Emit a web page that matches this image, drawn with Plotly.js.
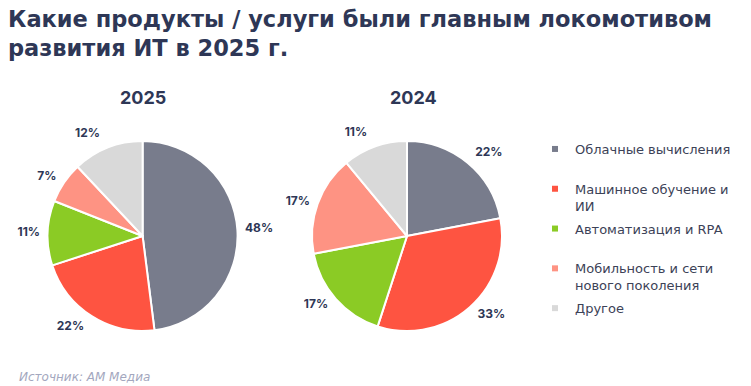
<!DOCTYPE html>
<html>
<head>
<meta charset="utf-8">
<script src="https://cdn.plot.ly/plotly-3.0.1.min.js"></script>
<style>html,body{margin:0;padding:0;background:#fff;}#chart{width:751px;height:386px;}</style>
</head>
<body>
<div id="chart"></div>
<script>
const categories = ["Облачные вычисления", "Машинное обучение и ИИ", "Автоматизация и RPA", "Мобильность и сети нового поколения", "Другое"];
const legendLabels = ["Облачные вычисления<br> ", "Машинное обучение и<br>ИИ", "Автоматизация и RPA<br> ", "Мобильность и сети<br>нового поколения", "Другое"];
const values2025 = [48, 22, 11, 7, 12];
const values2024 = [22, 33, 17, 17, 11];
const colors = ["#787c8c", "#fe5441", "#8bcb25", "#fe9383", "#d9d9d9"];
const years = ["2025", "2024"];

const NUMFONT = "Inter, 'Open Sans', sans-serif";
const TXTFONT = "'DejaVu Sans', 'Open Sans', sans-serif";
const DARK = "#2e3756";

const pad = "<span style='font-size:6px'>\u00a0</span>";
function pie(vals, dom) {
  return {
    type: "pie", values: vals, labels: categories, sort: false, direction: "clockwise", rotation: 0,
    marker: {colors: colors, line: {color: "#ffffff", width: 2}},
    texttemplate: pad + "<br><span style='font-size:12px'>%{value}%</span><br>" + pad,
    textposition: "outside",
    textfont: {family: NUMFONT, size: 9, color: DARK, weight: 700},
    hoverinfo: "none", showlegend: false, domain: dom
  };
}

const yDom = [(386 - 236 - 95) / 386, (386 - 236 + 95) / 386];
const traces = [
  pie(values2025, {x: [142.5 / 751 - 0.19, 142.5 / 751 + 0.19], y: yDom}),
  pie(values2024, {x: [407 / 751 - 0.19, 407 / 751 + 0.19], y: yDom})
];
categories.forEach((c, i) => {
  traces.push({
    type: "scatter", mode: "markers", x: [null], y: [null], name: legendLabels[i],
    legendgroup: "g" + i,
    marker: {symbol: "square", size: 6, color: colors[i]}, showlegend: true, hoverinfo: "none"
  });
});

const layout = {
  width: 751, height: 386,
  margin: {l: 0, r: 0, t: 0, b: 0},
  paper_bgcolor: "#ffffff", plot_bgcolor: "#ffffff",
  font: {family: TXTFONT, color: DARK},
  title: {
    text: "Какие продукты / услуги были главным локомотивом<br>развития ИТ в 2025 г.",
    x: 8 / 751, xanchor: "left", xref: "container",
    y: 1 - 27 / 386, yanchor: "top", yref: "container",
    font: {family: TXTFONT, size: 22.5, color: DARK, weight: 700}
  },
  xaxis: {visible: false, domain: [0.99, 1]},
  yaxis: {visible: false, domain: [0.99, 1]},
  legend: {
    x: 535 / 751, xanchor: "left", y: 1 - 134 / 386, yanchor: "top",
    font: {family: TXTFONT, size: 13, color: "#3c4257"},
    valign: "top", itemwidth: 30, tracegroupgap: 3, bgcolor: "rgba(0,0,0,0)"
  },
  annotations: [
    {text: years[0], x: 143 / 751, y: 1 - 97 / 386, xref: "paper", yref: "paper", xanchor: "center", yanchor: "middle", showarrow: false,
     font: {family: NUMFONT, size: 18, color: DARK, weight: 700}},
    {text: years[1], x: 413 / 751, y: 1 - 97 / 386, xref: "paper", yref: "paper", xanchor: "center", yanchor: "middle", showarrow: false,
     font: {family: NUMFONT, size: 18, color: DARK, weight: 700}},
    {text: "<i>Источник: АМ Медиа</i>", x: 17 / 751, xanchor: "left", y: 1 - 377 / 386, yanchor: "middle",
     xref: "paper", yref: "paper", showarrow: false, font: {family: TXTFONT, size: 12, color: "#a3a7be"}}
  ]
};

Plotly.newPlot("chart", traces, layout, {displayModeBar: false, staticPlot: true});
</script>
</body>
</html>
